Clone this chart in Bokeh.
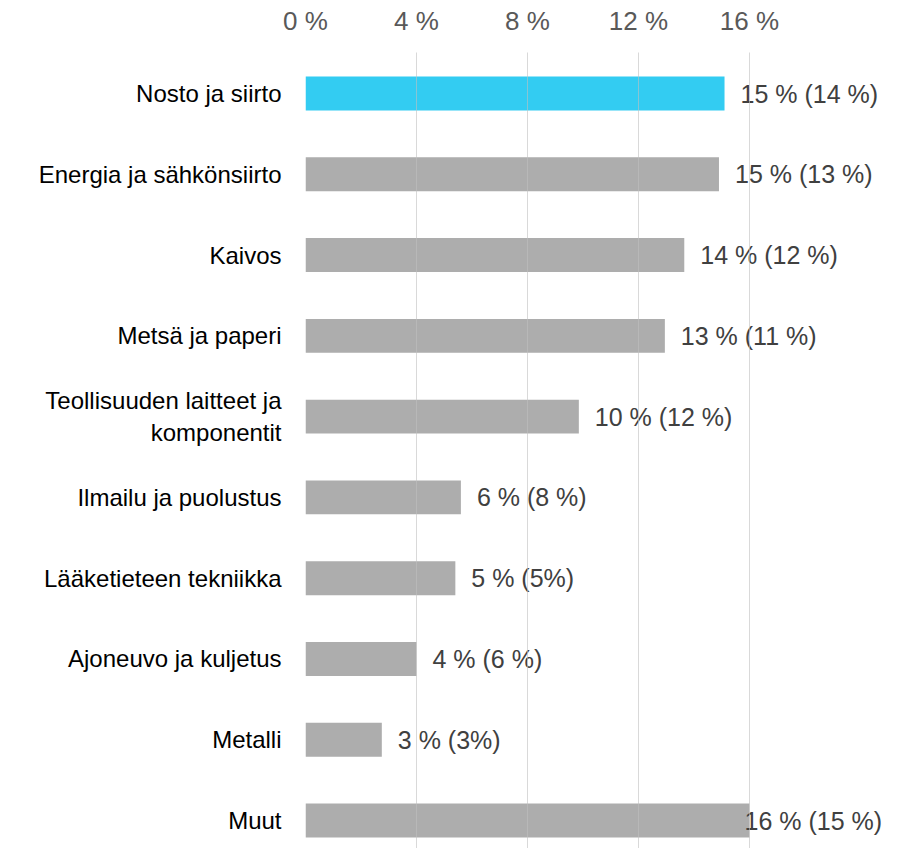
from bokeh.plotting import figure
from bokeh.models import ColumnDataSource, Range1d, FixedTicker
from bokeh.embed import file_html
from bokeh.resources import INLINE
from bokeh.core.properties import value

categories = ["Nosto ja siirto", "Energia ja sähkönsiirto", "Kaivos", "Metsä ja paperi",
              "Teollisuuden laitteet ja\nkomponentit", "Ilmailu ja puolustus",
              "Lääketieteen tekniikka", "Ajoneuvo ja kuljetus", "Metalli", "Muut"]
shares = [15.1, 14.9, 13.65, 12.95, 9.85, 5.6, 5.4, 4.0, 2.75, 16.0]
value_labels = ["15 % (14 %)", "15 % (13 %)", "14 % (12 %)", "13 % (11 %)", "10 % (12 %)",
                "6 % (8 %)", "5 % (5%)", "4 % (6 %)", "3 % (3%)", "16 % (15 %)"]
x_ticks = [0, 4, 8, 12, 16]
x_tick_labels = ["0 %", "4 %", "8 %", "12 %", "16 %"]

pos = list(range(len(categories)))
colors = ["#33CCF2"] + ["#ADADAD"] * (len(categories) - 1)

W, H = 896, 848
left, top = 305, 52
px_per_unit = 27.75
row_px = 80.78
first_row_px = 93

x_end = (W - left) / px_per_unit
y_top = -(first_row_px - top) / row_px
y_bot = (H - first_row_px) / row_px

# label anchor: just right of the bar, but kept inside the plot area
gap = 16 / px_per_unit
max_label_x = x_end - 152 / px_per_unit
label_x = [min(v + gap, max_label_x) for v in shares]

src = ColumnDataSource(dict(y=pos, v=shares, lx=label_x, lab=value_labels, c=colors))

p = figure(width=W, height=H, output_backend="svg", toolbar_location=None,
           x_range=Range1d(0, x_end), y_range=Range1d(y_bot, y_top),
           x_axis_location="above", min_border_left=left, min_border_right=0,
           min_border_top=top, min_border_bottom=0)
p.outline_line_color = None
p.background_fill_color = "white"
p.border_fill_color = "white"

p.hbar(y="y", right="v", left=0, height=0.42, fill_color="c", line_color=None, source=src)
p.text(x="lx", y="y", text="lab", source=src, text_baseline="middle",
       text_align="left", text_font=value("Liberation Sans"), text_font_size="25px",
       text_color="#404040")

xa = p.xaxis[0]
xa.ticker = FixedTicker(ticks=x_ticks)
xa.major_label_overrides = {t: l for t, l in zip(x_ticks, x_tick_labels)}
xa.axis_line_color = None
xa.major_tick_line_color = None
xa.minor_tick_line_color = None
xa.major_tick_out = 0
xa.major_label_standoff = 17
xa.major_label_text_font = "Liberation Sans"
xa.major_label_text_font_size = "26px"
xa.major_label_text_color = "#595959"

ya = p.yaxis[0]
ya.ticker = FixedTicker(ticks=pos)
ya.major_label_overrides = {i: c for i, c in zip(pos, categories)}
ya.axis_line_color = None
ya.major_tick_line_color = None
ya.minor_tick_line_color = None
ya.major_tick_out = 0
ya.major_label_standoff = 24
ya.major_label_text_font = "Liberation Sans"
ya.major_label_text_font_size = "24px"
ya.major_label_text_color = "#000000"

p.ygrid.grid_line_color = None
p.xgrid.ticker = FixedTicker(ticks=x_ticks)
p.xgrid.grid_line_color = "#BFBFBF"
p.xgrid.grid_line_alpha = 0.6
p.xgrid.level = "annotation"

open("out.html", "w").write(file_html(p, INLINE))
